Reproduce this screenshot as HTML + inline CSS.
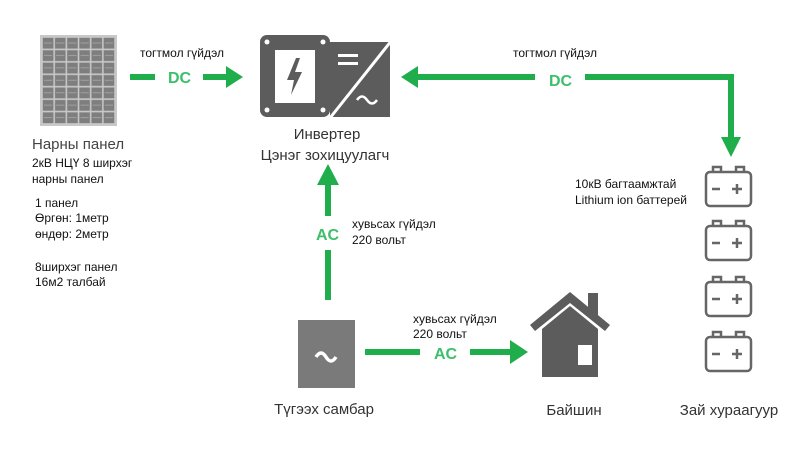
<!DOCTYPE html>
<html><head><meta charset="utf-8"><style>
body{margin:0;background:#fff;width:798px;height:450px;overflow:hidden;font-family:"Liberation Sans",sans-serif}
svg{position:absolute;left:0;top:0}
</style></head><body>
<svg width="798" height="450" viewBox="0 0 798 450" xmlns="http://www.w3.org/2000/svg" font-family="Liberation Sans, sans-serif">
<defs>
<pattern id="cells" x="42" y="37" width="12.17" height="12.43" patternUnits="userSpaceOnUse">
<rect width="12.17" height="12.43" fill="#c9c9c9"/>
<rect x="0.8" y="0.8" width="10.6" height="10.8" fill="#7e7e7e"/>
<rect x="2" y="5.5" width="8.2" height="1" fill="#a0a0a0"/>
</pattern>
</defs>
<!-- solar panel -->
<rect x="40" y="35" width="77" height="91" fill="#c8c8c8"/>
<rect x="42" y="37" width="73" height="87" fill="url(#cells)"/>
<text x="32" y="149" font-size="15" fill="#444">Нарны панел</text>
<g font-size="12" fill="#111">
<text x="32" y="167">2кВ НЦҮ 8 ширхэг</text>
<text x="32" y="183">нарны панел</text>
<text x="35" y="207">1 панел</text>
<text x="35" y="222">Өргөн: 1метр</text>
<text x="35" y="238">өндөр: 2метр</text>
<text x="35" y="271">8ширхэг панел</text>
<text x="35" y="286">16м2 талбай</text>
<text x="140" y="57">тогтмол гүйдэл</text>
<text x="513" y="57">тогтмол гүйдэл</text>
<text x="575" y="188">10кВ багтаамжтай</text>
<text x="575" y="204">Lithium ion баттерей</text>
<text x="352" y="228">хувьсах гүйдэл</text>
<text x="352" y="244">220 вольт</text>
<text x="413" y="323">хувьсах гүйдэл</text>
<text x="413" y="338">220 вольт</text>
</g>
<!-- green arrows -->
<g fill="#1fae4b" stroke="none">
<rect x="130" y="74" width="25" height="6"/>
<rect x="203" y="74" width="25" height="6"/>
<polygon points="226,66 243,77 226,88"/>
<rect x="418" y="74" width="117" height="6"/>
<polygon points="418,66 401,77 418,88"/>
<rect x="585" y="74" width="149" height="6"/>
<rect x="728" y="74" width="6" height="64"/>
<polygon points="721,137 741,137 731,157"/>
<rect x="325" y="183" width="6" height="33"/>
<polygon points="317,185 339,185 328,164"/>
<rect x="325" y="250" width="6" height="50"/>
<rect x="365" y="349" width="55" height="6"/>
<rect x="470" y="349" width="42" height="6"/>
<polygon points="510,340 528,352 510,364"/>
</g>
<g fill="#3cbf6a" font-size="16" font-weight="bold">
<text x="168" y="83">DC</text>
<text x="549" y="86">DC</text>
<text x="316" y="240">AC</text>
<text x="434" y="359">AC</text>
</g>
<!-- inverter -->
<rect x="260" y="35" width="70" height="82" rx="7" fill="#5c5c5c"/>
<polygon points="330,42 390,42 390,117 330,117" fill="#5c5c5c"/>
<line x1="392" y1="40" x2="330" y2="118" stroke="#fff" stroke-width="3"/>
<rect x="275" y="50" width="40" height="53" fill="#fff"/>
<polygon points="296,58 287,80 294,80 291,95 302,72 295,72 300,58" fill="#5c5c5c"/>
<circle cx="267" cy="42" r="2.5" fill="#fff"/><circle cx="323" cy="42" r="2.5" fill="#fff"/>
<circle cx="267" cy="110" r="2.5" fill="#fff"/><circle cx="323" cy="110" r="2.5" fill="#fff"/>
<rect x="338" y="54" width="20" height="3" fill="#fff"/><rect x="338" y="62" width="20" height="3" fill="#fff"/>
<path d="M357,100 q5,-7 10,0 t10,0" stroke="#fff" stroke-width="2.5" fill="none"/>
<text x="327" y="139" font-size="15" fill="#333" text-anchor="middle">Инвертер</text>
<text x="325" y="160" font-size="15" fill="#333" text-anchor="middle">Цэнэг зохицуулагч</text>
<!-- distribution panel -->
<rect x="298" y="320" width="57" height="68" fill="#7a7a7a"/>
<path d="M316,357 q5,-8 10,0 t10,0" stroke="#fff" stroke-width="3.5" fill="none"/>
<text x="324" y="414" font-size="15" fill="#333" text-anchor="middle">Түгээх самбар</text>
<!-- house -->
<polygon points="570,292 530,325 535,331 570,303 605,331 610,325" fill="#5c5c5c"/>
<rect x="588" y="293" width="10" height="22" fill="#5c5c5c"/>
<polygon points="570,306 542,329 542,377 598,377 598,329" fill="#5c5c5c"/>
<rect x="578" y="345" width="14" height="20" fill="#fff"/>
<text x="574" y="415" font-size="15" fill="#333" text-anchor="middle">Байшин</text>
<!-- batteries -->
<g fill="none" stroke="#666" stroke-width="2.5">
<g id="b"><rect x="706" y="172" width="45" height="34" rx="4"/><path d="M713,172 v-5 h8 v5 M736,172 v-5 h8 v5"/><path d="M712,189 h8 M732,189 h10 M737,184 v10"/></g>
<use href="#b" y="54"/><use href="#b" y="110"/><use href="#b" y="165"/>
</g>
<text x="729" y="415" font-size="15" fill="#333" text-anchor="middle">Зай хураагуур</text>
</svg>
</body></html>
